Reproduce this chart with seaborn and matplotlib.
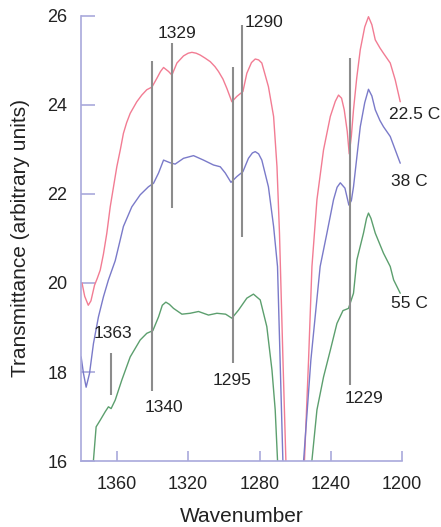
import numpy as np
import pandas as pd
import matplotlib
matplotlib.use("Agg")
import matplotlib.pyplot as plt
import seaborn as sns

# Spectra: wavenumber (cm^-1) and transmittance (arbitrary units)
wn_22 = [1379.5, 1378.0, 1376.0, 1374.5, 1372.5, 1371.0, 1369.3, 1367.5, 1365.6, 1363.7,
         1360.0, 1358.0, 1356.3, 1354.5, 1352.5, 1348.8, 1346.0, 1343.2, 1340.3, 1337.5,
         1335.5, 1333.8, 1331.0, 1329.1, 1326.3, 1322.6, 1320.0, 1317.9, 1315.5, 1313.3,
         1310.5, 1307.6, 1305.0, 1303.0, 1300.5, 1298.3, 1295.5, 1292.7, 1289.3, 1287.1,
         1284.5, 1282.4, 1280.5, 1278.7, 1275.0, 1272.1, 1270.2, 1268.8, 1266.8, 1265.2,
         1260.0, 1254.8, 1252.5, 1250.6, 1247.8, 1244.1, 1240.3, 1237.5, 1235.7, 1234.0,
         1232.5, 1230.8, 1229.7, 1228.5, 1227.3, 1225.5, 1223.5, 1221.0, 1218.9, 1217.0,
         1215.1, 1212.5, 1210.5, 1206.7, 1203.9, 1201.1]
t_22 = [20.0, 19.7, 19.5, 19.6, 19.95, 20.1, 20.29, 20.65, 21.12, 21.71,
        22.61, 23.0, 23.36, 23.6, 23.81, 24.07, 24.22, 24.34, 24.40, 24.60,
        24.75, 24.84, 24.75, 24.67, 24.94, 25.10, 25.16, 25.18, 25.16, 25.12,
        25.05, 24.97, 24.86, 24.75, 24.58, 24.37, 24.07, 24.19, 24.30, 24.71,
        24.95, 25.03, 25.01, 24.94, 24.41, 23.74, 22.61, 21.12, 18.2, 16.0,
        14.0, 16.0, 18.27, 20.37, 21.87, 22.99, 23.74, 24.08, 24.22, 24.15,
        23.89, 23.4, 22.90, 23.3, 23.89, 24.6, 25.24, 25.75, 25.98, 25.8,
        25.46, 25.28, 25.16, 24.94, 24.56, 24.07]

wn_38 = [1380.0, 1378.7, 1377.2, 1375.3, 1373.1, 1370.3, 1367.5, 1364.7, 1360.9, 1358.5,
         1356.3, 1351.6, 1346.9, 1342.3, 1339.4, 1336.6, 1333.8, 1330.1, 1327.3, 1322.6,
         1317.0, 1311.4, 1305.8, 1302.0, 1299.2, 1296.0, 1292.7, 1289.3, 1286.2, 1284.0,
         1282.4, 1280.5, 1278.7, 1275.0, 1272.1, 1269.9, 1266.9, 1261.0, 1255.3, 1251.2,
         1246.0, 1242.2, 1238.5, 1236.5, 1234.7, 1232.1, 1229.9, 1228.5, 1227.3, 1225.5,
         1223.5, 1221.0, 1218.9, 1217.0, 1215.1, 1212.5, 1210.5, 1206.7, 1203.9, 1201.1]
t_38 = [18.34, 17.97, 17.66, 17.97, 18.64, 19.24, 19.69, 20.07, 20.5, 20.9,
        21.27, 21.71, 21.98, 22.16, 22.24, 22.47, 22.76, 22.70, 22.67, 22.80,
        22.86, 22.76, 22.65, 22.61, 22.47, 22.26, 22.39, 22.50, 22.80, 22.92,
        22.95, 22.90, 22.76, 22.16, 21.27, 20.37, 16.02, 14.0, 16.0, 18.27,
        20.37, 21.12, 21.87, 22.15, 22.25, 22.13, 21.75, 21.85, 22.16, 22.8,
        23.51, 24.05, 24.35, 24.2, 23.89, 23.65, 23.51, 23.29, 22.99, 22.69]

wn_55 = [1373.1, 1371.6, 1369.3, 1366.5, 1364.7, 1363.2, 1360.9, 1357.2, 1352.5, 1346.9,
         1343.2, 1339.8, 1336.6, 1334.5, 1332.5, 1330.5, 1328.2, 1323.5, 1318.9, 1314.2,
         1308.6, 1303.9, 1299.0, 1295.5, 1291.8, 1287.1, 1283.4, 1279.6, 1275.9, 1273.0,
         1271.2, 1269.9, 1260.0, 1250.6, 1247.8, 1244.1, 1240.3, 1236.6, 1233.2, 1230.1,
         1227.3, 1225.4, 1221.7, 1220.0, 1218.9, 1217.5, 1215.1, 1210.5, 1206.7, 1204.8,
         1201.1]
t_55 = [16.02, 16.77, 16.92, 17.11, 17.22, 17.18, 17.37, 17.82, 18.34, 18.72,
        18.87, 18.93, 19.24, 19.5, 19.57, 19.52, 19.43, 19.30, 19.32, 19.36,
        19.28, 19.32, 19.3, 19.21, 19.39, 19.66, 19.75, 19.62, 19.02, 18.04,
        17.15, 16.02, 14.0, 16.02, 17.15, 17.89, 18.49, 19.09, 19.38, 19.43,
        19.77, 20.52, 21.12, 21.45, 21.57, 21.45, 21.12, 20.67, 20.37, 20.07,
        19.77]

series_names = ["22.5 C", "38 C", "55 C"]
label_pos = [(1207.5, 23.78), (1206, 22.27), (1206, 19.55)]

# Marked band positions and the vertical extent of each marker line
band_wn = [1363, 1340, 1329, 1295, 1290, 1229]
band_lo = [17.48, 17.57, 21.69, 18.20, 21.03, 17.70]
band_hi = [18.43, 24.99, 25.40, 24.85, 25.80, 25.05]
band_text_pos = [(1362.0, 18.86), (1333.5, 17.2), (1326.5, 25.6),
                 (1295.5, 17.8), (1288.5, 25.85), (1221.5, 17.4)]
band_text_ha = ["center", "center", "center", "center", "left", "center"]

frames = []
for name, w, t in zip(series_names, [wn_22, wn_38, wn_55], [t_22, t_38, t_55]):
    frames.append(pd.DataFrame({"wavenumber": w, "T": t, "series": name}))
df = pd.concat(frames, ignore_index=True)

sns.set_theme(style="white")
plt.rcParams["font.family"] = ["Liberation Sans", "DejaVu Sans"]

spine_col = "#a9a9dc"
palette = {"22.5 C": "#f27c93", "38 C": "#7a7ac9", "55 C": "#5c9f6e"}

fig = plt.figure(figsize=(4.41, 5.27), dpi=100)
ax = fig.add_axes([0.184, 0.125, 0.728, 0.845])

sns.lineplot(data=df, x="wavenumber", y="T", hue="series", units="series",
             estimator=None, sort=False, palette=palette, linewidth=1.0,
             legend=False, ax=ax)

ax.vlines(band_wn, band_lo, band_hi, colors="#8c8c8c", linewidth=1.5, zorder=3)
for (tx, ty), lab, ha in zip(band_text_pos, band_wn, band_text_ha):
    ax.text(tx, ty, str(lab), fontsize=12.5, ha=ha, va="center", color="#222222")

for name, (tx, ty) in zip(series_names, label_pos):
    ax.text(tx, ty, name, fontsize=12.5, ha="left", va="center", color="#222222",
            clip_on=False)

ax.set_xlim(1380, 1200)
ax.set_ylim(16, 26)
ax.set_xticks([1360, 1320, 1280, 1240, 1200])
ax.set_yticks([16, 18, 20, 22, 24, 26])

for side in ["top", "right"]:
    ax.spines[side].set_visible(False)
for side in ["left", "bottom"]:
    ax.spines[side].set_color(spine_col)
    ax.spines[side].set_linewidth(1.2)

ax.tick_params(axis="y", left=True, direction="in", length=10, width=1.2,
               color=spine_col, labelsize=13, pad=10, labelcolor="#222222")
ax.tick_params(axis="x", bottom=True, direction="in", length=7, width=1.2,
               color=spine_col, labelsize=13, pad=11, labelcolor="#222222")

ax.set_xlabel("Wavenumber", fontsize=15, color="#222222", labelpad=10)
ax.set_ylabel("Transmittance (arbitrary units)", fontsize=15, color="#222222",
              labelpad=12)

fig.savefig("out.png", dpi=100)
